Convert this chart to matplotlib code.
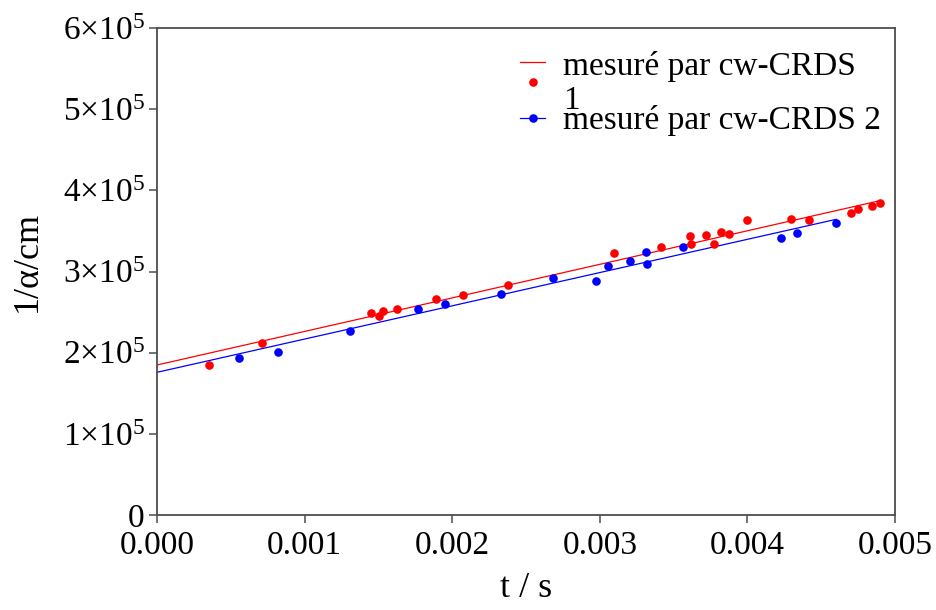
import matplotlib
matplotlib.use("Agg")
import matplotlib.pyplot as plt
from matplotlib.lines import Line2D
import numpy as np

plt.rcParams['font.family'] = ['Liberation Serif', 'DejaVu Serif']
plt.rcParams['mathtext.fontset'] = 'custom'
plt.rcParams['mathtext.rm'] = 'Liberation Serif'
plt.rcParams['mathtext.it'] = 'Liberation Serif:italic'

# --- data ---
t_red = [0.000354, 0.000713, 0.001448, 0.001502, 0.001533, 0.001624, 0.001890,
         0.002075, 0.002380, 0.003098, 0.003413, 0.003609, 0.003616, 0.003717,
         0.003776, 0.003819, 0.003873, 0.003997, 0.004295, 0.004415, 0.004700,
         0.004751, 0.004842, 0.004896]
y_red = [1.852e5, 2.119e5, 2.492e5, 2.448e5, 2.510e5, 2.542e5, 2.657e5,
         2.707e5, 2.834e5, 3.232e5, 3.302e5, 3.434e5, 3.343e5, 3.446e5,
         3.339e5, 3.483e5, 3.458e5, 3.631e5, 3.651e5, 3.631e5, 3.724e5,
         3.766e5, 3.803e5, 3.848e5]

t_blue = [0.000556, 0.000818, 0.001308, 0.001770, 0.001953, 0.002333, 0.002681,
          0.002976, 0.003056, 0.003205, 0.003313, 0.003318, 0.003562, 0.004230,
          0.004334, 0.004602]
y_blue = [1.931e5, 2.012e5, 2.263e5, 2.538e5, 2.596e5, 2.727e5, 2.924e5,
          2.887e5, 3.072e5, 3.133e5, 3.244e5, 3.092e5, 3.298e5, 3.409e5,
          3.478e5, 3.601e5]

# fit lines (intercept, slope)
fit_red = (1.848e5, 4.134e7)
fit_blue = (1.758e5, 4.096e7)

label_red = "mesuré par cw-CRDS"
label_red2 = "1"
label_blue = "mesuré par cw-CRDS 2"

yticks = [0, 1e5, 2e5, 3e5, 4e5, 5e5, 6e5]
yticklabels = ['0'] + [r'$%d{\times}10^{5}$' % k for k in range(1, 7)]
xticks = [0.000, 0.001, 0.002, 0.003, 0.004, 0.005]
xticklabels = ['0.000', '0.001', '0.002', '0.003', '0.004', '0.005']

fig = plt.figure(figsize=(9.36, 6.10), dpi=100)
ax = fig.add_axes([157/936, 95/610, 738/936, 487/610])

RED = '#ff0000'
BLUE = '#0000ff'

tr = np.array([0.0, max(t_red)])
tb = np.array([0.0, max(t_blue)])
ax.plot(tr, fit_red[0] + fit_red[1]*tr, color=RED, lw=0.9, zorder=2)
ax.plot(tb, fit_blue[0] + fit_blue[1]*tb, color=BLUE, lw=0.9, zorder=2)
ax.plot(t_red, y_red, 'o', color=RED, ms=6.2, mec='none', zorder=3)
ax.plot(t_blue, y_blue, 'o', color=BLUE, ms=6.2, mec='none', zorder=3)

ax.set_xlim(0, 0.005)
ax.set_ylim(0, 6e5)
ax.set_xticks(xticks)
ax.set_xticklabels(xticklabels)
ax.set_yticks(yticks)
ax.set_yticklabels(yticklabels)

spine_c = '#4d4d4d'
for s in ax.spines.values():
    s.set_color(spine_c)
    s.set_linewidth(1.3)
ax.tick_params(axis='both', direction='out', length=6, width=1.1, color=spine_c,
               labelsize=24, pad=3)
ax.tick_params(axis='x', pad=5)

ax.set_xlabel('t / s', fontsize=26)
ax.set_ylabel('1/α/cm', fontsize=26)
ax.xaxis.set_label_coords(0.5, -0.118)
ax.yaxis.set_label_coords(-0.176, 0.52)
ax.yaxis.label.set_va('center')

# legend (drawn as legend glyphs in axes fraction)
tA = ax.transAxes
ax.add_line(Line2D([0.492, 0.526], [0.930, 0.930], color=RED, lw=0.9, transform=tA, clip_on=False))
ax.add_line(Line2D([0.509], [0.889], marker='o', color=RED, ms=6.2, mec='none', transform=tA, clip_on=False))
ax.add_line(Line2D([0.492, 0.526], [0.815, 0.815], color=BLUE, lw=0.9, transform=tA, clip_on=False))
ax.add_line(Line2D([0.509], [0.815], marker='o', color=BLUE, ms=6.2, mec='none', transform=tA, clip_on=False))
ax.text(0.550, (515-75)/487, label_red, transform=tA, fontsize=24, va='baseline', ha='left')
ax.text(0.550, (515-109)/487, label_red2, transform=tA, fontsize=24, va='baseline', ha='left')
ax.text(0.550, (515-128.5)/487, label_blue, transform=tA, fontsize=24, va='baseline', ha='left')

fig.savefig('out.png', dpi=100)
